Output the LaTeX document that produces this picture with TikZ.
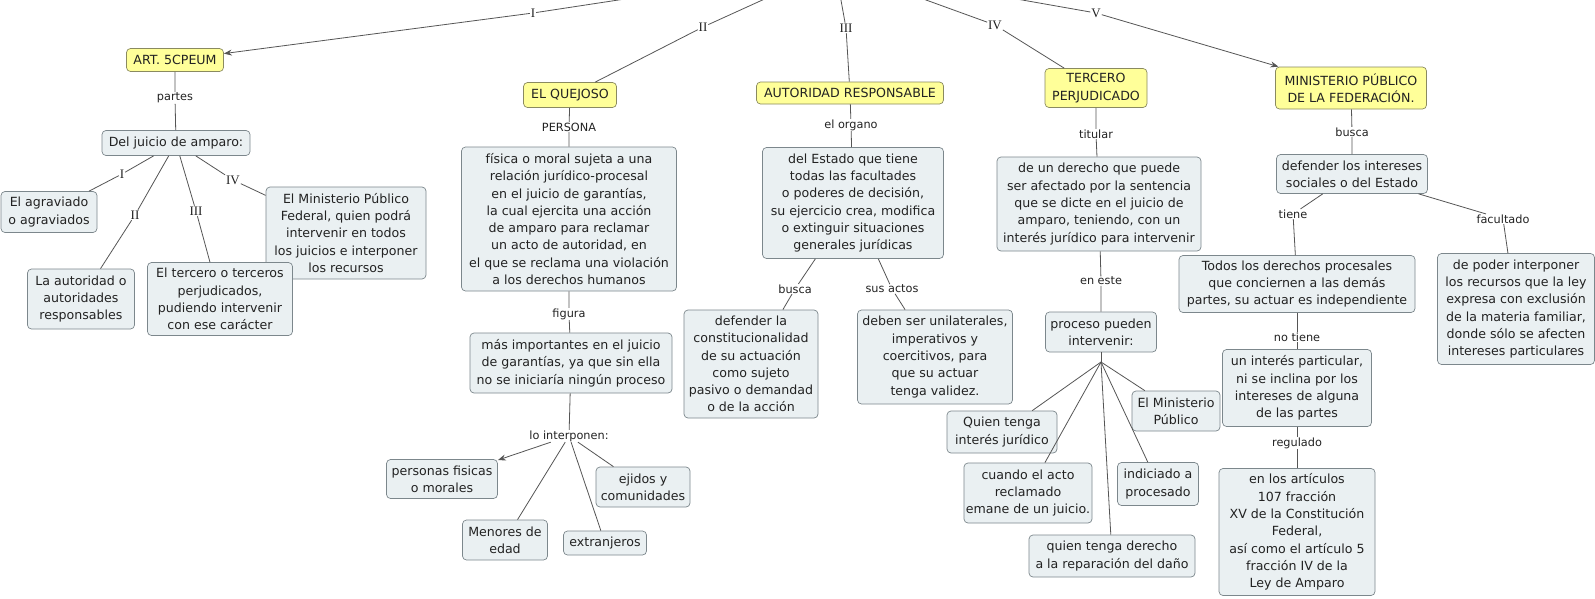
\documentclass[tikz,border=0pt]{standalone}
\usepackage{fontspec}
\setmainfont{DejaVu Sans}
\newfontfamily\romfont{Liberation Serif}
\usetikzlibrary{arrows.meta}
\definecolor{bluec}{HTML}{EAF0F2}
\definecolor{bordc}{HTML}{7C878C}
\definecolor{yelc}{HTML}{FFFF99}
\definecolor{ybord}{HTML}{8A8A60}
\definecolor{linec}{HTML}{555555}
\definecolor{txtc}{HTML}{222222}
\tikzset{
  concept/.style={draw=bordc, fill=bluec, rounded corners=4pt, align=center, inner sep=1pt,
    font=\fontsize{12.6}{17.3}\selectfont, text=txtc, line width=0.7pt},
  yconcept/.style={concept, fill=yelc, draw=ybord},
  sz/.style 2 args={minimum width=#1pt, minimum height=#2pt},
  lbl/.style={inner sep=0.5pt, font=\fontsize{11.3}{13}\selectfont, text=txtc},
  rom/.style={inner sep=0.8pt, font=\romfont\fontsize{13}{14}\selectfont, text=txtc},
  link/.style={draw=linec, line width=0.8pt},
  arr/.style={link, -{Stealth[length=8pt,width=6pt]}},
}
\begin{document}
\begin{tikzpicture}[x=1pt,y=-1pt]
\useasboundingbox (0,0) rectangle (1595,598);
\clip (0,0) rectangle (1595,598);
\fill[white] (0,0) rectangle (1595,598);
\coordinate (root) at (835,-33);

% ---- main concepts
\node[yconcept, sz={97}{23}] (art) at (175,60) {ART. 5CPEUM};
\node[yconcept, sz={93}{25}] (quejoso) at (570,95) {EL QUEJOSO};
\node[yconcept, sz={187}{22}] (autoridad) at (850,93) {AUTORIDAD RESPONSABLE};
\node[yconcept, sz={102}{39}] (tercero) at (1096,88) {TERCERO\\PERJUDICADO};
\node[yconcept, sz={151}{42}] (mpf) at (1351,88) {MINISTERIO PÚBLICO\\DE LA FEDERACIÓN.};

% ---- ART branch
\node[concept, sz={148}{25}] (djuicio) at (176,143) {Del juicio de amparo:};
\node[concept, sz={96}{41}] (agraviado) at (49,212) {El agraviado\\o agraviados};
\node[concept, sz={107}{60}] (autoridades) at (81,299) {La autoridad o\\autoridades\\responsables};
\node[concept, sz={160}{92}] (mpfed) at (346,233) {El Ministerio Público\\Federal, quien podrá\\intervenir en todos\\los juicios e interponer\\los recursos};
\node[concept, sz={145}{73}] (terceros) at (220,299) {El tercero o terceros\\perjudicados,\\pudiendo intervenir\\con ese carácter};

% ---- QUEJOSO branch
\node[concept, sz={215}{144}] (fisica) at (569,219) {física o moral sujeta a una\\relación jurídico-procesal\\en el juicio de garantías,\\la cual ejercita una acción\\de amparo para reclamar\\un acto de autoridad, en\\el que se reclama una violación\\a los derechos humanos};
\node[concept, sz={202}{60}] (importantes) at (571,363) {más importantes en el juicio\\de garantías, ya que sin ella\\no se iniciaría ningún proceso};
\node[concept, sz={111}{39}] (personas) at (442,479) {personas fisicas\\o morales};
\node[concept, sz={94}{40}] (ejidos) at (643,487) {ejidos y\\comunidades};
\node[concept, sz={85}{40}] (menores) at (505,540) {Menores de\\edad};
\node[concept, sz={83}{24}] (extranjeros) at (605,543) {extranjeros};

% ---- AUTORIDAD branch
\node[concept, sz={181}{111}] (estado) at (853,203) {del Estado que tiene\\todas las facultades\\o poderes de decisión,\\su ejercicio crea, modifica\\o extinguir situaciones\\generales jurídicas};
\node[concept, sz={134}{108}] (defender) at (751,364) {defender la\\constitucionalidad\\de su actuación\\como sujeto\\pasivo o demandad\\o de la acción};
\node[concept, sz={155}{94}] (deben) at (935,357) {deben ser unilaterales,\\imperativos y\\coercitivos, para\\que su actuar\\tenga validez.};

% ---- TERCERO branch
\node[concept, sz={204}{94}] (derecho) at (1099,204) {de un derecho que puede\\ser afectado por la sentencia\\que se dicte en el juicio de\\amparo, teniendo, con un\\interés jurídico para intervenir};
\node[concept, sz={111}{40}] (proceso) at (1101,332) {proceso pueden\\intervenir:};
\node[concept, sz={88}{40}] (mp) at (1176,411) {El Ministerio\\Público};
\node[concept, sz={110}{42}] (quien) at (1002,432) {Quien tenga\\interés jurídico};
\node[concept, sz={128}{60}] (cuando) at (1028,493) {cuando el acto\\reclamado\\emane de un juicio.};
\node[concept, sz={81}{43}] (indiciado) at (1158,484) {indiciado a\\procesado};
\node[concept, sz={166}{42}] (reparacion) at (1112,556) {quien tenga derecho\\a la reparación del daño};
\coordinate (fan) at (1101,362);

% ---- MINISTERIO branch
\node[concept, sz={151}{39}] (intereses) at (1352,174) {defender los intereses\\sociales o del Estado};
\node[concept, sz={236}{57}] (todos) at (1297,284) {Todos los derechos procesales\\que conciernen a las demás\\partes, su actuar es independiente};
\node[concept, sz={157}{111}] (poder) at (1516,309) {de poder interponer\\los recursos que la ley\\expresa con exclusión\\de la materia familiar,\\donde sólo se afecten\\intereses particulares};
\node[concept, sz={149}{77}] (particular) at (1297,388) {un interés particular,\\ni se inclina por los\\intereses de alguna\\de las partes};
\node[concept, sz={156}{127}] (articulos) at (1297,532) {en los artículos\\107 fracción\\XV de la Constitución\\Federal,\\así como el artículo 5\\fracción IV de la\\Ley de Amparo};

% ---- linking phrases
\node[rom] (tI) at (533,13) {I};
\node[rom] (tII) at (703,27) {II};
\node[rom] (tIII) at (846,28) {III};
\node[rom] (tIV) at (995,25) {IV};
\node[rom] (tV) at (1096,13) {V};
\node[lbl] (lpartes) at (175,98) {partes};
\node[rom] (dI) at (122,174) {I};
\node[rom] (dII) at (135,215) {II};
\node[rom] (dIII) at (196,211) {III};
\node[rom] (dIV) at (233,180) {IV};
\node[lbl] (lpersona) at (569,127) {PERSONA};
\node[lbl] (lfigura) at (569,314) {figura};
\node[lbl] (linterp) at (569,436) {lo interponen:};
\node[lbl] (lorgano) at (851,125) {el organo};
\node[lbl] (lbusca) at (795,289) {busca};
\node[lbl] (lactos) at (892,289) {sus actos};
\node[lbl] (ltitular) at (1096,134) {titular};
\node[lbl] (leste) at (1101,281) {en este};
\node[lbl] (lbuscab) at (1352,132) {busca};
\node[lbl] (ltiene) at (1293,214) {tiene};
\node[lbl] (lfacult) at (1503,219) {facultado};
\node[lbl] (lnotiene) at (1297,337) {no tiene};
\node[lbl] (lregul) at (1297,443) {regulado};

% ---- connectors
\draw[link] (root) -- (tI);  \draw[arr] (tI) -- (art);
\draw[link] (root) -- (tII); \draw[link] (tII) -- (quejoso);
\draw[link] (root) -- (tIII); \draw[link] (tIII) -- (autoridad);
\draw[link] (root) -- (tIV); \draw[link] (tIV) -- (tercero);
\draw[link] (root) -- (tV);  \draw[arr] (tV) -- (mpf);

\draw[link] (art) -- (lpartes) -- (djuicio);
\draw[link] (djuicio) -- (dI) -- (agraviado);
\draw[link] (djuicio) -- (dII) -- (autoridades);
\draw[link] (djuicio) -- (dIII) -- (terceros);
\draw[link] (djuicio) -- (dIV) -- (mpfed);

\draw[link] (quejoso) -- (lpersona) -- (fisica);
\draw[link] (fisica) -- (lfigura) -- (importantes);
\draw[link] (importantes) -- (linterp);
\draw[arr] (linterp) -- (personas);
\draw[link] (linterp) -- (menores);
\draw[link] (linterp) -- (extranjeros);
\draw[link] (linterp) -- (ejidos);

\draw[link] (autoridad) -- (lorgano) -- (estado);
\draw[link] (estado) -- (lbusca) -- (defender);
\draw[link] (estado) -- (lactos) -- (deben);

\draw[link] (tercero) -- (ltitular) -- (derecho);
\draw[link] (derecho) -- (leste) -- (proceso);
\draw[link] (proceso) -- (fan);
\draw[link] (fan) -- (quien);
\draw[link] (fan) -- (cuando);
\draw[link] (fan) -- (reparacion);
\draw[link] (fan) -- (indiciado);
\draw[link] (fan) -- (mp);

\draw[link] (mpf) -- (lbuscab) -- (intereses);
\draw[link] (intereses) -- (ltiene) -- (todos);
\draw[link] (intereses) -- (lfacult) -- (poder);
\draw[link] (todos) -- (lnotiene) -- (particular);
\draw[link] (particular) -- (lregul) -- (articulos);
\end{tikzpicture}
\end{document}
